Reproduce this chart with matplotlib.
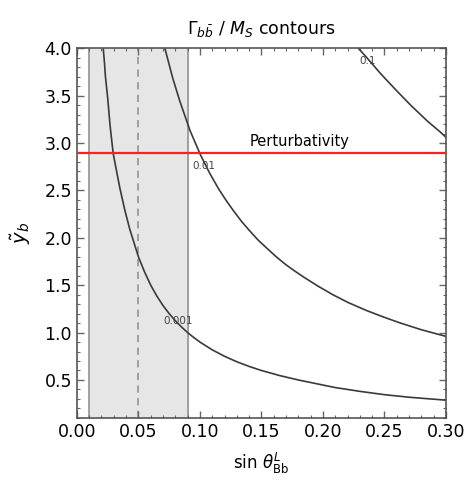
import numpy as np
import matplotlib as mpl
import matplotlib.pyplot as plt
from matplotlib.ticker import MultipleLocator

# contour lines (sin theta, y_b)
c001_s = [0.0214, 0.0224, 0.0232, 0.0250, 0.0270, 0.0295, 0.0320, 0.0350, 0.0390, 0.0430,
          0.0500, 0.0550, 0.0600, 0.0650, 0.0700, 0.0750, 0.0800, 0.0850, 0.0900, 0.0950,
          0.1000, 0.1100, 0.1200, 0.1300, 0.1400, 0.1500, 0.1650, 0.1800, 0.1950, 0.2100,
          0.2300, 0.2500, 0.2700, 0.3000]
c001_y = [4.00, 3.85, 3.70, 3.48, 3.18, 2.89, 2.72, 2.52, 2.29, 2.09,
          1.80, 1.64, 1.50, 1.385, 1.285, 1.20, 1.125, 1.06, 1.00, 0.948,
          0.90, 0.818, 0.75, 0.692, 0.643, 0.60, 0.546, 0.50, 0.46, 0.42,
          0.38, 0.345, 0.318, 0.287]

c01_s = [0.0715, 0.0780, 0.0837, 0.0920, 0.1006, 0.1080, 0.1150, 0.1210, 0.1270, 0.1340,
         0.1400, 0.1470, 0.1540, 0.1620, 0.1700, 0.1770, 0.1850, 0.1960, 0.2080, 0.2200,
         0.2350, 0.2480, 0.2620, 0.2800, 0.3000]
c01_y = [4.00, 3.68, 3.44, 3.13, 2.87, 2.68, 2.52, 2.40, 2.29, 2.17,
         2.08, 1.98, 1.895, 1.80, 1.715, 1.65, 1.58, 1.49, 1.40, 1.32,
         1.235, 1.17, 1.105, 1.03, 0.96]

c1_s = [0.2287, 0.2350, 0.2470, 0.2600, 0.2720, 0.2850, 0.2950, 0.3000]
c1_y = [4.00, 3.91, 3.73, 3.55, 3.39, 3.23, 3.12, 3.06]

levels = ["0.001", "0.01", "0.1"]
label_pos = [(0.082, 1.12), (0.103, 2.76), (0.236, 3.87)]

band = (0.01, 0.09)
band_mid = 0.05
y_pert = 2.89

fig = plt.figure(figsize=(4.66, 4.82), dpi=100)
ax = fig.add_axes([0.165, 0.133, 0.792, 0.767])

ax.axvspan(band[0], band[1], color='#e6e6e6', zorder=0)
ax.axvline(band[0], color='#9a9a9a', lw=1.3, zorder=1)
ax.axvline(band[1], color='#9a9a9a', lw=1.3, zorder=1)
ax.axvline(band_mid, color='#9a9a9a', lw=1.3, ls=(0, (4, 3)), zorder=1)

for s, y in [(c001_s, c001_y), (c01_s, c01_y), (c1_s, c1_y)]:
    ax.plot(s, y, color='#3a3a3a', lw=1.2, zorder=2)

for lab, (xs, ys) in zip(levels, label_pos):
    ax.text(xs, ys, lab, fontsize=7.5, color='#444444', ha='center', va='center', zorder=3)

ax.axhline(y_pert, color='#ff2020', lw=1.6, zorder=3)
ax.text(0.181, y_pert + 0.05, "Perturbativity", fontsize=10.5, ha='center', va='bottom')

ax.set_xlim(0, 0.3)
ax.set_ylim(0.1, 4.0)
ax.xaxis.set_major_locator(MultipleLocator(0.05))
ax.xaxis.set_minor_locator(MultipleLocator(0.01))
ax.yaxis.set_major_locator(MultipleLocator(0.5))
ax.yaxis.set_minor_locator(MultipleLocator(0.1))
ax.set_xticklabels([f"{v:.2f}" for v in ax.get_xticks()])
ax.tick_params(which='both', direction='in', top=True, right=True, color='#666666',
               labelsize=12.5)
ax.tick_params(which='major', length=5, width=1)
ax.tick_params(which='minor', length=2.5, width=0.8)
for sp in ax.spines.values():
    sp.set_color('#555555')
    sp.set_linewidth(1.2)

ax.set_xlabel(r"sin $\theta^{L}_{\mathrm{Bb}}$", fontsize=12, labelpad=7)
ax.set_ylabel(r"$\tilde{y}_b$", fontsize=14, labelpad=8)
ax.set_title(r"$\Gamma_{b\bar{b}}$ / $M_S$ contours", fontsize=12.5, pad=10)

fig.savefig("out.png", dpi=100)
